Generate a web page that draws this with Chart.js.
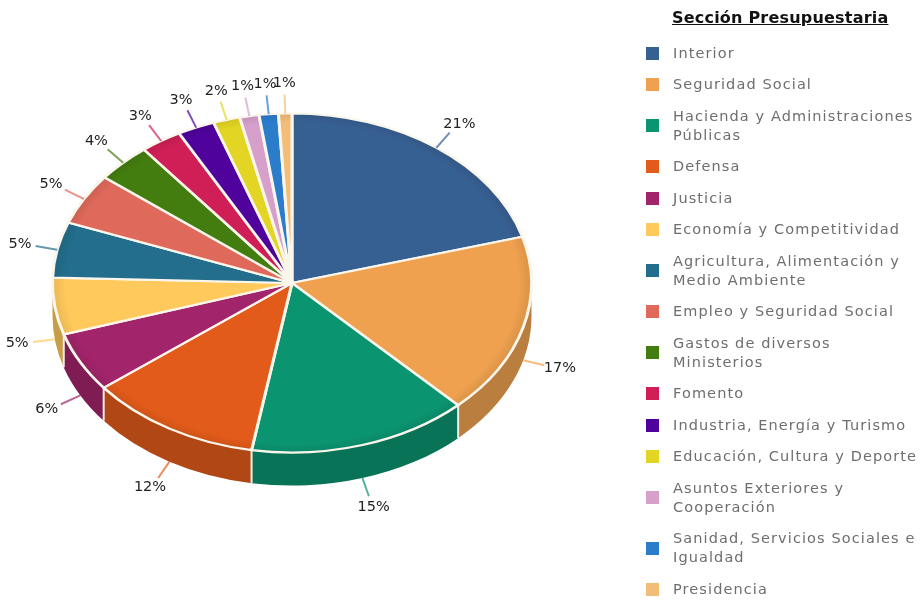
<!DOCTYPE html>
<html lang="es">
<head>
<meta charset="utf-8">
<title>Sección Presupuestaria</title>
<script src="https://cdn.jsdelivr.net/npm/chart.js@4"></script>
<style>
  html, body { margin: 0; padding: 0; background: #fff; }
  #wrap { position: relative; width: 924px; height: 602px; overflow: hidden; filter: blur(0.6px); }
  #pie { position: absolute; left: 0; top: 0; }
  #legend-title {
    position: absolute; left: 672px; top: 8px; margin: 0;
    font: bold 16px "DejaVu Sans", sans-serif; letter-spacing: 0.2px; color: #111;
    text-decoration: underline; white-space: nowrap;
  }
  #legend { position: absolute; left: 646px; top: 43.5px; margin: 0; padding: 0; list-style: none; width: 278px; }
  #legend li { display: flex; align-items: center; margin-bottom: 12.5px; }
  #legend .box { flex: none; width: 13px; height: 13px; margin-right: 14px; }
  #legend .txt {
    font: 14.5px/19px "DejaVu Sans", sans-serif; color: #6e6e6e;
    letter-spacing: 1.1px; white-space: pre;
  }
</style>
</head>
<body>
<div id="wrap">
  <canvas id="pie" width="924" height="602"></canvas>
  <p id="legend-title">Sección Presupuestaria</p>
  <ul id="legend"></ul>
</div>
<script>
let categories = [
  "Interior",
  "Seguridad Social",
  "Hacienda y Administraciones\nPúblicas",
  "Defensa",
  "Justicia",
  "Economía y Competitividad",
  "Agricultura, Alimentación y\nMedio Ambiente",
  "Empleo y Seguridad Social",
  "Gastos de diversos\nMinisterios",
  "Fomento",
  "Industria, Energía y Turismo",
  "Educación, Cultura y Deporte",
  "Asuntos Exteriores y\nCooperación",
  "Sanidad, Servicios Sociales e\nIgualdad",
  "Presidencia",
];

let values = [20.6, 17.2, 14.9, 11.7, 5.7, 5.4, 5.3, 4.9, 3.7, 2.8, 2.5, 1.8, 1.3, 1.3, 0.9];

let colors = [
  "#376092", "#EFA14F", "#0B9470", "#E25B1A", "#A2246B",
  "#FFC95C", "#226E8C", "#DF6A5B", "#437D10", "#CF1F56",
  "#50039C", "#E3D523", "#D6A0CB", "#2B7CCB", "#F2BD77",
];

let squash = 0.708;
let depth = 33;

function shade(hex, f) {
  let n = parseInt(hex.slice(1), 16);
  let r = Math.round(((n >> 16) & 255) * f);
  let g = Math.round(((n >> 8) & 255) * f);
  let b = Math.round((n & 255) * f);
  return `rgb(${r},${g},${b})`;
}

// top face: flat colour with a darker rim
function faceColor(context) {
  let area = context.chart.chartArea;
  let base = colors[context.dataIndex];
  if (!area) return base;
  let cx = (area.left + area.right) / 2;
  let cy = (area.top + area.bottom) / 2;
  let r = Math.min(area.width, area.height) / 2;
  let g = context.chart.ctx.createRadialGradient(cx, cy, 0, cx, cy, r);
  g.addColorStop(0, base);
  g.addColorStop(0.94, base);
  g.addColorStop(1, shade(base, 0.9));
  return g;
}

let tilt3d = {
  id: "tilt3d",
  beforeDatasetsDraw(chart) {
    let ctx = chart.ctx;
    let arcs = chart.getDatasetMeta(0).data;
    let cx = arcs[0].x;
    let cy = arcs[0].y;
    let rx = arcs[0].outerRadius;
    let ry = rx * squash;

    arcs.forEach((arc, i) => {
      let a = Math.max(arc.startAngle, 0);
      let b = Math.min(arc.endAngle, Math.PI);
      if (b <= a) return;
      ctx.beginPath();
      ctx.ellipse(cx, cy, rx, ry, 0, a, b);
      ctx.ellipse(cx, cy + depth, rx, ry, 0, b, a, true);
      ctx.closePath();
      ctx.fillStyle = shade(colors[i], 0.78);
      ctx.fill();
    });

    // light seams between the side walls
    ctx.strokeStyle = "#f4efe6";
    ctx.lineWidth = 2;
    arcs.forEach((arc) => {
      let t = arc.endAngle;
      if (t <= 0 || t >= Math.PI) return;
      let x = cx + rx * Math.cos(t);
      let y = cy + ry * Math.sin(t);
      ctx.beginPath();
      ctx.moveTo(x, y);
      ctx.lineTo(x, y + depth);
      ctx.stroke();
    });

    ctx.save();
    ctx.translate(cx, cy);
    ctx.scale(1, squash);
    ctx.translate(-cx, -cy);
  },
  afterDatasetsDraw(chart) {
    let ctx = chart.ctx;
    ctx.restore();

    let arcs = chart.getDatasetMeta(0).data;
    arcs.forEach((arc, i) => {
      let t = (arc.startAngle + arc.endAngle) / 2;
      let c = Math.cos(t);
      let s = Math.sin(t);
      let x = arc.x + arc.outerRadius * c;
      let y = arc.y + arc.outerRadius * squash * s + (s > 0 ? depth : 0);

      ctx.beginPath();
      ctx.moveTo(x, y);
      ctx.lineTo(x + c * 22, y + s * 19);
      ctx.strokeStyle = colors[i];
      ctx.globalAlpha = 0.7;
      ctx.lineWidth = 2;
      ctx.stroke();
      ctx.globalAlpha = 1;

      ctx.fillStyle = "#222";
      ctx.font = '14.5px "DejaVu Sans", sans-serif';
      ctx.textAlign = "center";
      ctx.textBaseline = "middle";
      ctx.fillText(Math.round(values[i]) + "%", x + c * 38, y + s * 30);
    });
  },
};

new Chart("pie", {
  type: "pie",
  data: {
    labels: categories,
    datasets: [
      {
        data: values,
        backgroundColor: faceColor,
        borderColor: "#fbf6ec",
        borderWidth: 3,
      },
    ],
  },
  options: {
    responsive: false,
    animation: false,
    events: [],
    layout: { padding: { left: 51, right: 391, top: 42, bottom: 78 } },
    plugins: {
      legend: { display: false },
      tooltip: { enabled: false },
    },
  },
  plugins: [tilt3d],
});

let legend = document.getElementById("legend");
categories.forEach((name, i) => {
  let li = document.createElement("li");
  let box = document.createElement("span");
  box.className = "box";
  box.style.background = colors[i];
  let txt = document.createElement("span");
  txt.className = "txt";
  txt.textContent = name;
  li.appendChild(box);
  li.appendChild(txt);
  legend.appendChild(li);
});
</script>
</body>
</html>
